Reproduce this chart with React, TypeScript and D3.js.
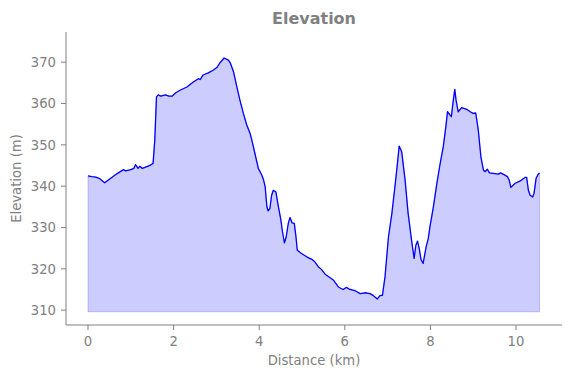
import React from "react";
import * as d3 from "d3";

const distanceKm = [
  0.0, 0.09, 0.18, 0.26, 0.39, 0.53, 0.69, 0.83, 0.88, 1.0, 1.07, 1.11, 1.17, 1.21, 1.27, 1.39, 1.46, 1.52,
  1.56, 1.6, 1.64, 1.7, 1.81, 1.89, 1.97, 2.05, 2.15, 2.31, 2.46, 2.58, 2.62, 2.69, 2.81, 2.93, 3.01, 3.08,
  3.18, 3.28, 3.33, 3.4, 3.47, 3.55, 3.63, 3.71, 3.79, 3.82, 3.9, 3.98, 4.06, 4.1, 4.14, 4.18, 4.21, 4.25,
  4.29, 4.33, 4.39, 4.45, 4.5, 4.55, 4.59, 4.63, 4.68, 4.72, 4.77, 4.82, 4.86, 4.89, 4.99, 5.11, 5.23, 5.3,
  5.38, 5.46, 5.54, 5.65, 5.73, 5.85, 5.96, 6.04, 6.12, 6.24, 6.36, 6.47, 6.59, 6.67, 6.76, 6.82, 6.88, 6.94,
  7.02, 7.1, 7.18, 7.23, 7.27, 7.33, 7.41, 7.48, 7.56, 7.62, 7.66, 7.7, 7.74, 7.78, 7.83, 7.9, 7.95, 7.99,
  8.07, 8.15, 8.22, 8.3, 8.36, 8.4, 8.46, 8.49, 8.53, 8.57, 8.6, 8.65, 8.73, 8.85, 8.93, 9.0, 9.06, 9.12,
  9.18, 9.24, 9.28, 9.33, 9.38, 9.47, 9.59, 9.64, 9.72, 9.8, 9.84, 9.88, 9.98, 10.09, 10.21, 10.25, 10.29,
  10.33, 10.39, 10.42, 10.47, 10.52, 10.55,
];

const elevationM = [
  342.5, 342.3, 342.2, 341.9, 340.8, 341.9, 343.1, 344.0, 343.7, 344.0, 344.3, 345.2, 344.3, 344.8, 344.3, 344.8, 345.1, 345.5,
  351.1, 361.6, 362.1, 361.8, 362.1, 361.8, 361.8, 362.6, 363.2, 364.0, 365.2, 366.0, 365.8, 366.9, 367.4, 368.1, 368.7, 369.8,
  371.0, 370.5, 369.7, 367.7, 364.4, 360.8, 357.6, 354.8, 352.7, 351.5, 347.9, 344.3, 342.7, 341.6, 339.8, 335.0, 334.0, 334.6,
  337.8, 339.0, 338.6, 335.0, 332.2, 328.6, 326.3, 327.7, 331.0, 332.4, 331.1, 331.0, 327.7, 324.5, 323.7, 322.9, 322.3, 321.7,
  320.5, 319.8, 318.7, 317.9, 317.3, 315.6, 315.0, 315.5, 315.0, 314.7, 314.0, 314.2, 314.0, 313.5, 312.7, 313.5, 313.6, 318.1,
  327.7, 333.4, 340.7, 345.5, 349.7, 348.3, 341.4, 333.4, 326.9, 322.5, 325.7, 326.7, 324.9, 322.3, 321.3, 325.3, 327.3, 330.2,
  335.0, 340.6, 345.0, 349.5, 354.3, 358.0, 357.2, 356.8, 360.4, 363.4, 360.8, 358.0, 359.0, 358.6, 358.0, 357.6, 357.7, 353.5,
  347.1, 343.9, 343.5, 344.1, 343.2, 343.1, 342.9, 343.2, 342.8, 342.3, 341.5, 339.7, 340.7, 341.2, 342.1, 342.1, 339.0,
  337.8, 337.4, 338.2, 341.9, 342.9, 343.2,
];

const fillBaseline = 309.6;
const xTicks = [0, 2, 4, 6, 8, 10];
const yTicks = [310, 320, 330, 340, 350, 360, 370];
const titleText = "Elevation";
const xLabel = "Distance (km)";
const yLabel = "Elevation (m)";

export default function App() {
  const W = 571;
  const H = 378;
  const left = 66, right = 562, top = 32, bottom = 325;
  const x = d3.scaleLinear().domain([-0.514, 11.075]).range([left, right]);
  const y = d3.scaleLinear().domain([306.4, 377.3]).range([bottom, top]);
  const pts = distanceKm.map((d, i) => [d, elevationM[i]] as [number, number]);
  const area = d3
    .area<[number, number]>()
    .x((d) => x(d[0]))
    .y0(() => y(fillBaseline))
    .y1((d) => y(d[1]));
  const line = d3
    .line<[number, number]>()
    .x((d) => x(d[0]))
    .y((d) => y(d[1]));
  const gray = "#808080";
  const font = "'DejaVu Sans', sans-serif";
  return (
    <div style={{ position: "fixed", left: 0, top: 0 }}>
      <svg width={W} height={H} style={{ display: "block", background: "#fff" }} fontFamily={font}>
        <path d={area(pts) || ""} fill="blue" fillOpacity={0.2} stroke="blue" strokeOpacity={0.2} strokeWidth={1} />
        <path d={line(pts) || ""} fill="none" stroke="blue" strokeWidth={1.3} strokeLinejoin="round" />
        <line x1={left} x2={left} y1={top} y2={bottom} stroke={gray} strokeWidth={1} />
        <line x1={left} x2={right} y1={bottom} y2={bottom} stroke={gray} strokeWidth={1} />
        {xTicks.map((t) => (
          <g key={"x" + t}>
            <line x1={x(t)} x2={x(t)} y1={bottom} y2={bottom + 5} stroke={gray} strokeWidth={1} />
            <text x={x(t)} y={bottom + 20.5} textAnchor="middle" fontSize={13.2} fill={gray}>
              {t}
            </text>
          </g>
        ))}
        {yTicks.map((t) => (
          <g key={"y" + t}>
            <line x1={left - 5} x2={left} y1={y(t)} y2={y(t)} stroke={gray} strokeWidth={1} />
            <text x={left - 10} y={y(t)} dy="0.36em" textAnchor="end" fontSize={13.2} fill={gray}>
              {t}
            </text>
          </g>
        ))}
        <text x={(left + right) / 2} y={365} textAnchor="middle" fontSize={13.2} fill={gray}>
          {xLabel}
        </text>
        <text
          transform={`translate(21,${(top + bottom) / 2}) rotate(-90)`}
          textAnchor="middle"
          fontSize={13.2}
          fill={gray}
        >
          {yLabel}
        </text>
        <text x={(left + right) / 2} y={24} textAnchor="middle" fontSize={16} fontWeight="bold" fill={gray}>
          {titleText}
        </text>
      </svg>
    </div>
  );
}
